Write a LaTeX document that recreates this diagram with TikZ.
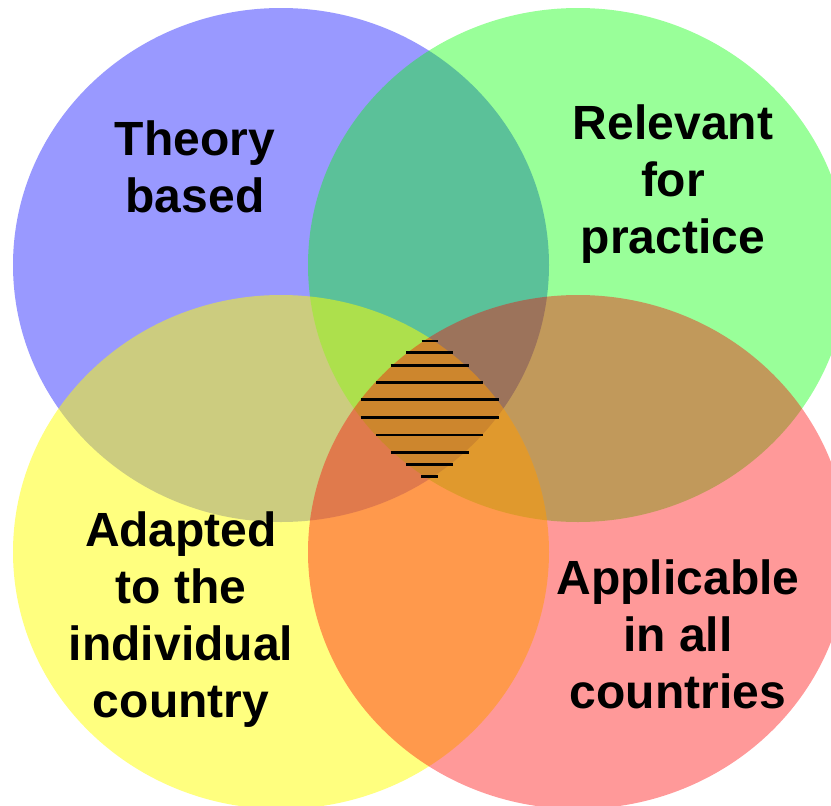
\documentclass[tikz,border=0pt]{standalone}
\usepackage{fontspec}
\setmainfont{Liberation Sans}
\usepackage{tikz}
\usetikzlibrary{positioning}
\definecolor{myblue}{RGB}{0,0,255}
\definecolor{mygreen}{RGB}{0,255,0}
\definecolor{myyellow}{RGB}{255,255,0}
\definecolor{myred}{RGB}{255,0,0}
\tikzset{
  venn/.style={draw=none,fill opacity=0.4},
  vennhalf/.style={draw=none,fill opacity=0.5},
  lbl/.style={align=center,text=black,font=\fontsize{48}{57}\selectfont\bfseries},
  hatch/.style={black,line width=2.3pt}
}

\begin{document}
\begin{tikzpicture}[x=1pt,y=-1pt]
  \useasboundingbox (0,0) rectangle (831,806);
  \fill[white] (0,0) rectangle (831,806);
  \clip (0,0) rectangle (831,806);

  % Theory circle (top left)
  \fill[venn, myblue] (281,265) ellipse [x radius=268pt, y radius=257pt];
  % Practice circle (top right)
  \fill[venn, mygreen] (578,265) ellipse [x radius=270pt, y radius=257pt];
  % Country circle (bottom left)
  \fill[vennhalf, myyellow] (281,552) ellipse [x radius=268pt, y radius=257pt];
  % All countries circle (bottom right)
  \fill[venn, myred] (578,552) ellipse [x radius=270pt, y radius=257pt];

  % Hatching of the common part
  \foreach \dy/\w in {-67.5/8, -56/23.5, -43/39, -26/53.5, -9/69, 9/69, 26.5/53.5, 44/39, 56/23.5, 68/8.5}
    \draw[hatch] ({429.5-\w},{408.5+\dy}) -- ({429.5+\w},{408.5+\dy});

  % Labels
  \node[lbl] (theory) at (195,167) {Theory\\based};
  \node[lbl] (relevant) at (673,184) {Relevant\\for\\practice};
  \node[lbl] (adapted) at (181,620) {Adapted\\to the\\individual\\country};
  \node[lbl] (applicable) at (678,634) {Applicable\\in all\\countries};
\end{tikzpicture}
\end{document}
